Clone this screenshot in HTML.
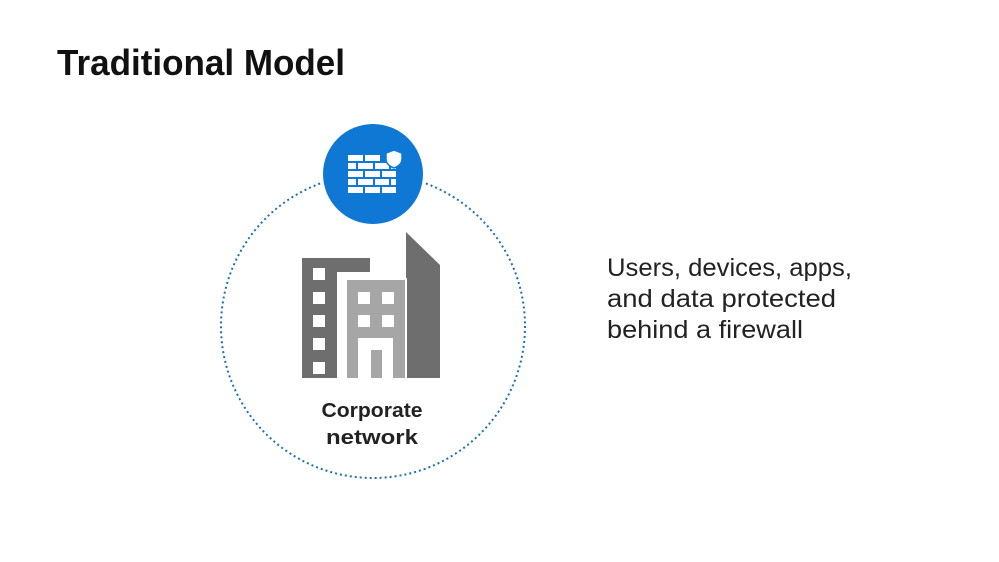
<!DOCTYPE html>
<html><head><meta charset="utf-8"><style>html,body{margin:0;padding:0;background:#fff}svg{display:block}</style></head>
<body>
<svg width="999" height="562" viewBox="0 0 999 562" xmlns="http://www.w3.org/2000/svg" font-family="Liberation Sans, sans-serif">
<rect width="999" height="562" fill="#fff"/>
<text x="57" y="75" font-size="36" font-weight="bold" fill="#111" textLength="288" lengthAdjust="spacingAndGlyphs">Traditional Model</text>
<circle cx="373" cy="326" r="152" fill="none" stroke="#1f6fb0" stroke-width="2" stroke-dasharray="2 3"/>
<circle cx="373" cy="175" r="52" fill="#fff"/>
<circle cx="373" cy="174" r="50" fill="#0f78d4"/>
<g fill="#fff">
<rect x="348" y="155" width="15" height="6"/><rect x="365" y="155" width="15" height="6"/>
<rect x="348" y="163" width="8" height="6"/><rect x="358" y="163" width="15" height="6"/><rect x="375" y="163" width="14" height="6"/><rect x="391" y="163" width="5" height="6"/>
<rect x="348" y="171" width="15" height="6"/><rect x="365" y="171" width="15" height="6"/><rect x="382" y="171" width="14" height="6"/>
<rect x="348" y="179" width="8" height="6"/><rect x="358" y="179" width="15" height="6"/><rect x="375" y="179" width="14" height="6"/><rect x="391" y="179" width="5" height="6"/>
<rect x="348" y="187" width="15" height="6"/><rect x="365" y="187" width="15" height="6"/><rect x="382" y="187" width="14" height="6"/>
</g>
<path d="M394 150 L386 153 L386 159 Q386 165 394 168 Q402 165 402 159 L402 153 Z" fill="#fff" stroke="#0f78d4" stroke-width="1.5"/>
<polygon points="406,232 440,265 440,378 406,378" fill="#6e6e6e"/>
<rect x="302" y="258" width="68" height="14" fill="#6e6e6e"/>
<rect x="302" y="258" width="35" height="120" fill="#6e6e6e"/>
<g fill="#fff">
<rect x="313" y="268" width="12" height="12"/><rect x="313" y="292" width="12" height="12"/><rect x="313" y="315" width="12" height="12"/><rect x="313" y="338" width="12" height="12"/><rect x="313" y="362" width="12" height="12"/>
</g>
<rect x="345" y="278" width="62" height="100" fill="#fff"/>
<rect x="347" y="280" width="58" height="98" fill="#a6a6a6"/>
<g fill="#fff">
<rect x="358" y="292" width="12" height="12"/><rect x="382" y="292" width="12" height="12"/>
<rect x="358" y="315" width="12" height="12"/><rect x="382" y="315" width="12" height="12"/>
<rect x="358" y="338" width="35" height="40"/>
</g>
<rect x="371" y="350" width="11" height="28" fill="#a6a6a6"/>
<text x="372" y="417" font-size="20" font-weight="bold" fill="#222" text-anchor="middle" textLength="101" lengthAdjust="spacingAndGlyphs">Corporate</text>
<text x="372" y="444" font-size="20" font-weight="bold" fill="#222" text-anchor="middle" textLength="92" lengthAdjust="spacingAndGlyphs">network</text>
<g font-size="25" fill="#222">
<text x="607" y="276" textLength="245" lengthAdjust="spacingAndGlyphs">Users, devices, apps,</text>
<text x="607" y="307" textLength="229" lengthAdjust="spacingAndGlyphs">and data protected</text>
<text x="607" y="338" textLength="196" lengthAdjust="spacingAndGlyphs">behind a firewall</text>
</g>
</svg>
</body></html>
